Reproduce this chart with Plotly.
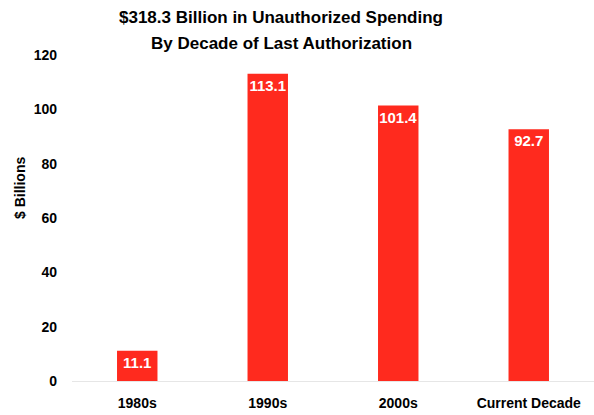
import plotly.graph_objects as go

categories = ["1980s", "1990s", "2000s", "Current Decade"]
values = [11.1, 113.1, 101.4, 92.7]
value_labels = ["11.1", "113.1", "101.4", "92.7"]
y_ticks = [0, 20, 40, 60, 80, 100, 120]
title_lines = ["$318.3 Billion in Unauthorized Spending", "By Decade of Last Authorization"]

FONT = "Liberation Sans, Arial, sans-serif"
RED = "#FF2A1E"

fig = go.Figure()
fig.add_trace(go.Bar(
    x=categories, y=values, text=value_labels,
    textposition="inside", insidetextanchor="end", textangle=0, constraintext="none",
    textfont=dict(family=FONT, size=15, color="white", weight="bold"),
    marker=dict(color=RED, line=dict(width=0)),
    width=0.31, cliponaxis=False,
))

fig.update_layout(
    width=594, height=415,
    margin=dict(l=72, r=0, t=55, b=34),
    paper_bgcolor="white", plot_bgcolor="white",
    showlegend=False,
    xaxis=dict(
        range=[-0.5, 3.5], showgrid=False, showline=True, linecolor="#E6E6E6", linewidth=1,
        ticks="", ticklabelstandoff=9,
        tickfont=dict(family=FONT, size=14, color="black", weight="bold"),
    ),
    yaxis=dict(
        range=[0, 120], tickvals=y_ticks, showgrid=False, zeroline=False, showline=False,
        ticks="", ticklabelstandoff=14,
        tickfont=dict(family=FONT, size=14, color="black", weight="bold"),
    ),
    annotations=[
        dict(text="<b>%s</b>" % title_lines[0], xref="paper", yref="paper", x=0.4004, y=1.1135,
             showarrow=False, xanchor="center", yanchor="middle",
             font=dict(family=FONT, size=17, color="black")),
        dict(text="<b>%s</b>" % title_lines[1], xref="paper", yref="paper", x=0.4004, y=1.0368,
             showarrow=False, xanchor="center", yanchor="middle",
             font=dict(family=FONT, size=17, color="black")),
        dict(text="<b>$ Billions</b>", xref="paper", yref="paper", x=-0.0996, y=0.592,
             textangle=-90, showarrow=False, xanchor="center", yanchor="middle",
             font=dict(family=FONT, size=14, color="black")),
    ],
)

fig.write_html("out.html")
